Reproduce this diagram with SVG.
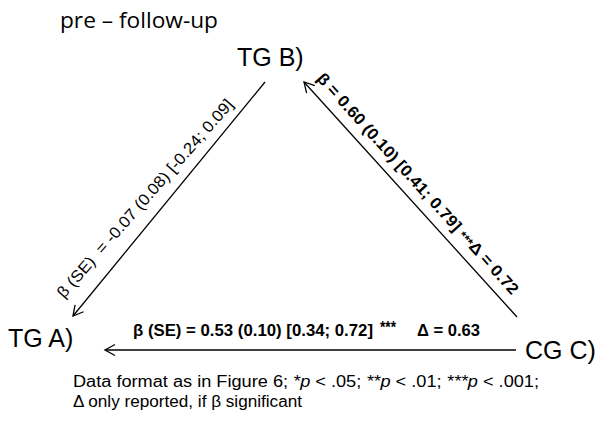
<svg xmlns="http://www.w3.org/2000/svg" width="601" height="423" viewBox="0 0 601 423">
<style>
  .node { font-family: "Liberation Sans", Arial, sans-serif; font-size: 25px; fill: #000; }
  .lbl { font-family: "Liberation Sans", Arial, sans-serif; font-size: 16px; fill: #000; }
  .b { font-weight: bold; }
  .title { font-family: "Open Sans", "Liberation Sans", sans-serif; font-size: 21px; fill: #000; }
  .foot { font-family: "Liberation Sans", Arial, sans-serif; font-size: 16px; fill: #000; }
  .conn { stroke: #000; stroke-width: 1.3; fill: none; marker-end: url(#arr); }
</style>
<defs>
  <marker id="arr" viewBox="-12 -7 14 14" refX="0" refY="0" markerWidth="14" markerHeight="14" markerUnits="userSpaceOnUse" orient="auto">
    <path d="M-10,-5.5 L0,0 L-10,5.5" fill="none" stroke="#000" stroke-width="1.3"/>
  </marker>
</defs>
<rect width="601" height="423" fill="#fff"/>
<text class="title" x="60" y="28" textLength="158" lengthAdjust="spacingAndGlyphs">pre – follow-up</text>

<g id="connectors">
  <line class="conn" x1="265" y1="82" x2="73" y2="316"/>
  <line class="conn" x1="517" y1="317" x2="304" y2="82"/>
  <line class="conn" x1="516" y1="350" x2="105" y2="350"/>
</g>

<g id="label-BA">
  <text class="lbl" transform="translate(64,299) rotate(-48.75)" textLength="258" lengthAdjust="spacingAndGlyphs">β (SE)&#160; = -0.07 (0.08) [-0.24; 0.09]</text>
</g>
<g id="label-CB">
  <text class="lbl b" transform="translate(316,79) rotate(47.9)" textLength="292" lengthAdjust="spacingAndGlyphs">β = 0.60 (0.10) [0.41; 0.79] <tspan font-size="12">***</tspan>Δ = 0.72</text>
</g>
<g id="label-CA">
  <text class="lbl b" x="133" y="336" textLength="240" lengthAdjust="spacingAndGlyphs">β (SE) = 0.53 (0.10) [0.34; 0.72]</text>
  <text class="lbl b" x="380" y="333" font-size="12" textLength="16" lengthAdjust="spacingAndGlyphs">***</text>
  <text class="lbl b" x="417" y="336" textLength="63" lengthAdjust="spacingAndGlyphs">Δ = 0.63</text>
</g>

<g id="node-TGB"><text class="node" x="237" y="66">TG B)</text></g>
<g id="node-TGA"><text class="node" x="8" y="347">TG A)</text></g>
<g id="node-CGC"><text class="node" x="525" y="359">CG C)</text></g>

<g id="footnote">
  <text class="foot" x="73" y="387" textLength="466" lengthAdjust="spacingAndGlyphs">Data format as in Figure 6; <tspan font-style="italic">*p</tspan> &lt; .05; <tspan font-style="italic">**p</tspan> &lt; .01; <tspan font-style="italic">***p</tspan> &lt; .001;</text>
  <text class="foot" x="73" y="407" textLength="229" lengthAdjust="spacingAndGlyphs">Δ only reported, if β significant</text>
</g>
</svg>
